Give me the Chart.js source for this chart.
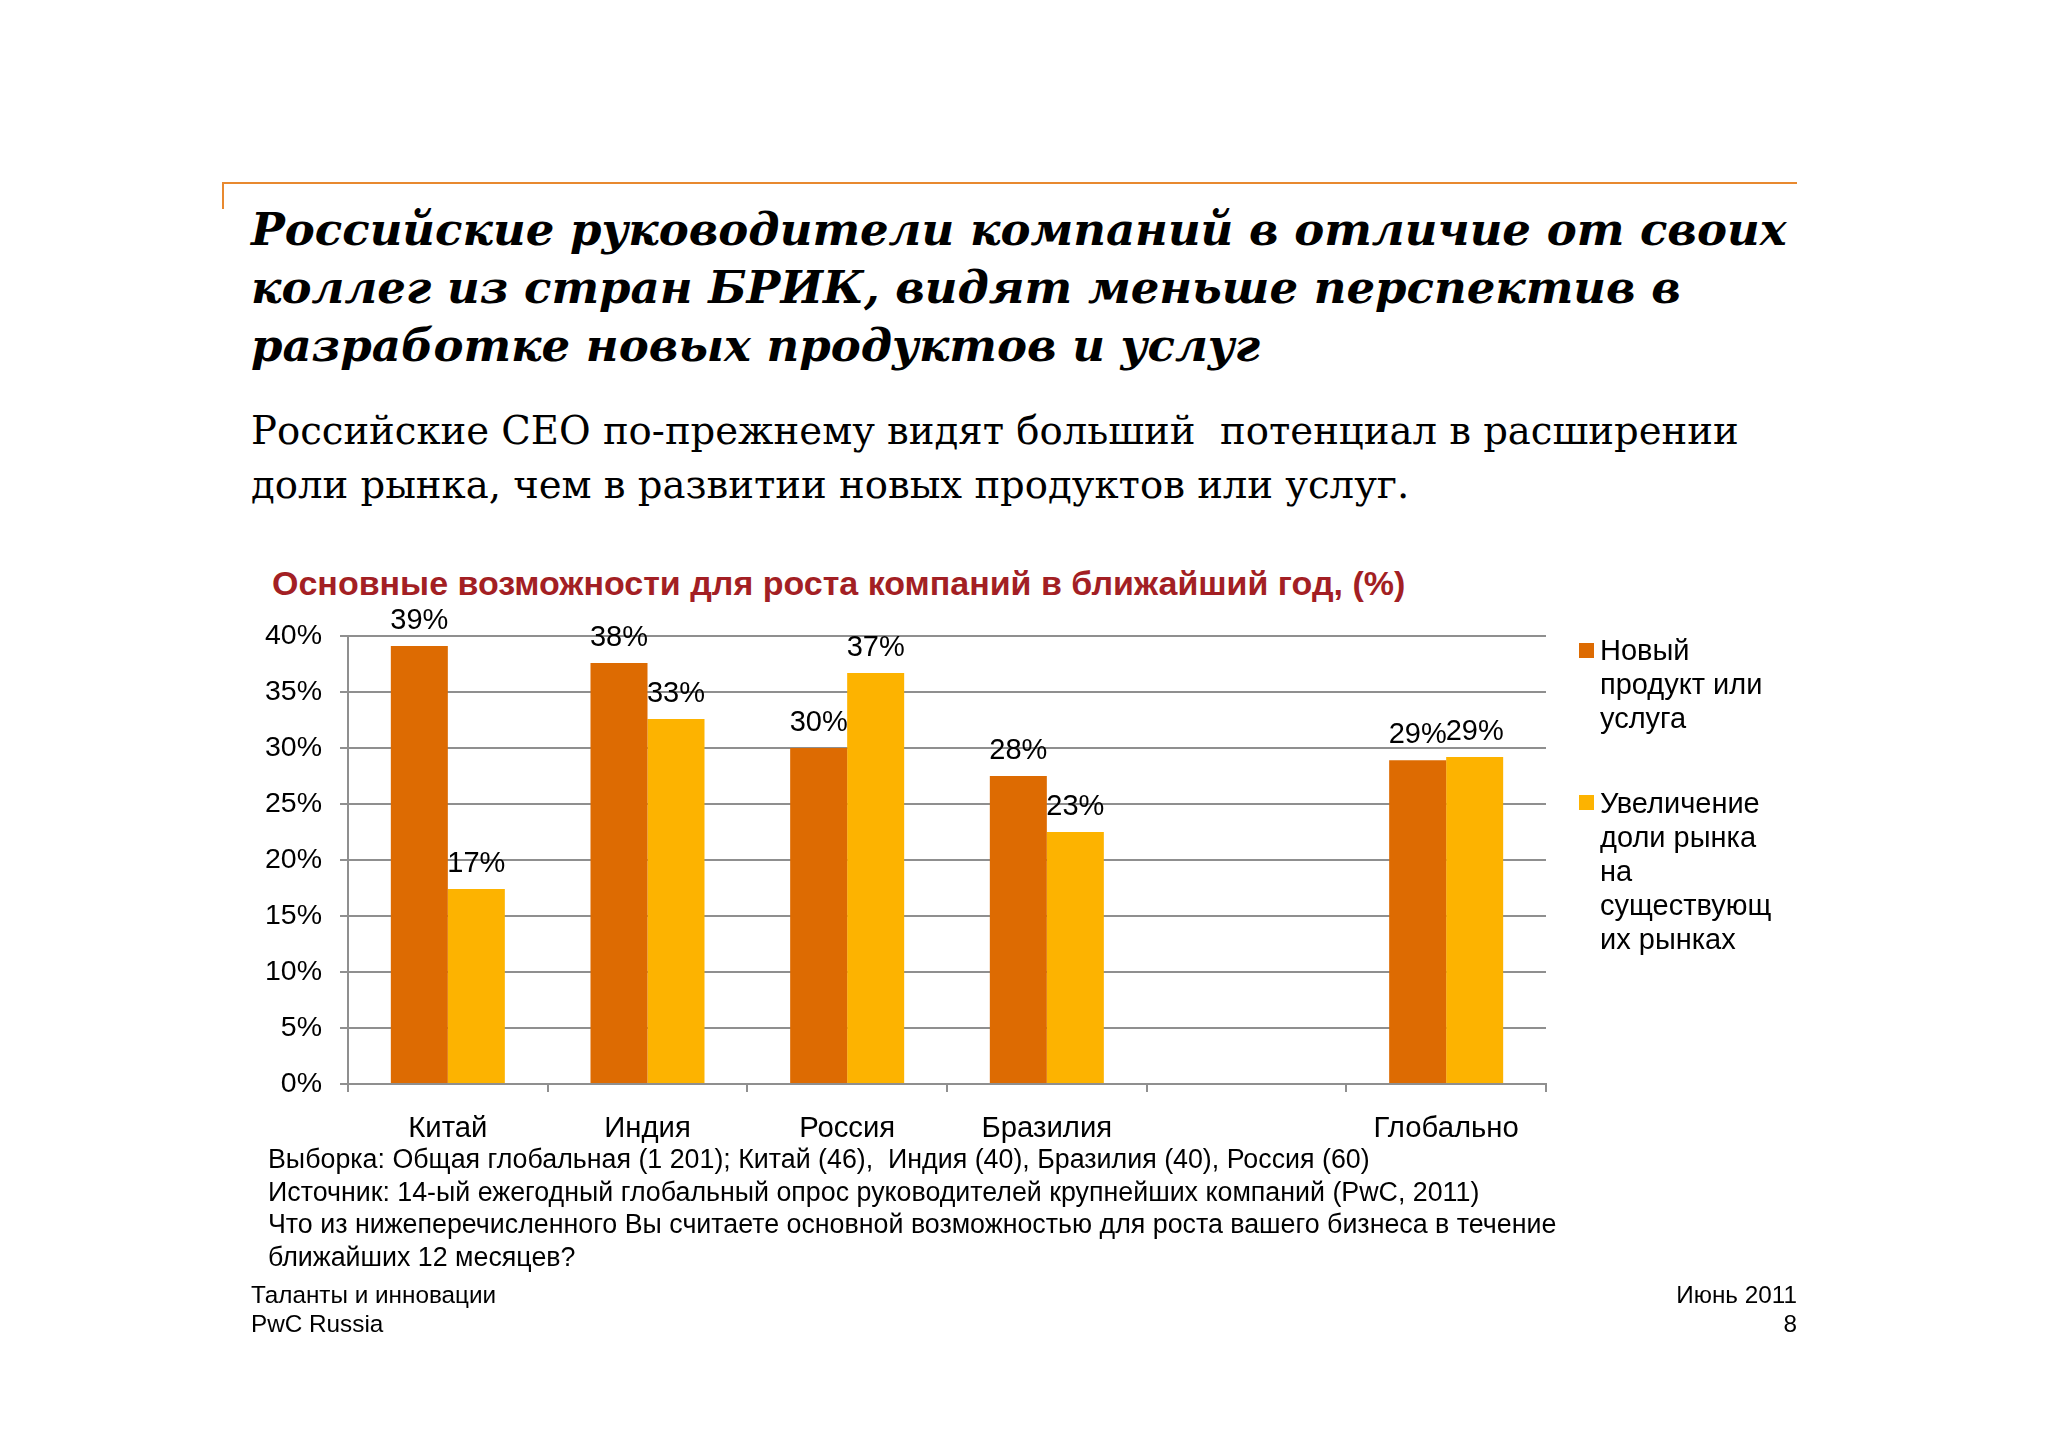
<!DOCTYPE html>
<html><head><meta charset="utf-8">
<script src="https://cdn.jsdelivr.net/npm/chart.js@4.4.1/dist/chart.umd.min.js"></script>
<style>
html,body{margin:0;padding:0;background:#fff;}
#page{position:relative;width:2048px;height:1447px;overflow:hidden;background:#fff;font-family:"Liberation Sans",Arial,sans-serif;color:#000;}
#chartCanvas{position:absolute;left:0;top:0;}
.t{position:absolute;white-space:pre;}
</style></head><body>
<div id="page">
  <div style="position:absolute;left:222px;top:182px;width:1575px;height:2px;background:#E8892F"></div>
  <div style="position:absolute;left:222px;top:182px;width:2px;height:27px;background:#E8892F"></div>
  <div class="t" id="title" style="left:251px;top:201px;font:italic bold 45px 'DejaVu Serif';line-height:58px;color:#000"></div>
  <div class="t" id="subtitle" style="left:251px;top:404px;font:38.6px 'DejaVu Serif';line-height:54px;color:#000"></div>
  <div class="t" id="chartTitle" style="left:272px;top:564px;font:bold 34px 'Liberation Sans';line-height:38px;color:#A31F24"></div>
  <canvas id="chartCanvas" width="2048" height="1447"></canvas>
  <div id="legend"></div>
  <div class="t" id="notes" style="left:268px;top:1143px;font:26.8px 'Liberation Sans';line-height:32.5px;color:#000"></div>
  <div class="t" id="footL" style="left:251px;top:1280px;font:24.3px 'Liberation Sans';line-height:29px;color:#000"></div>
  <div class="t" id="footR" style="right:251px;top:1280px;font:24.3px 'Liberation Sans';line-height:29px;color:#000;text-align:right"></div>
</div>
<script>
// ---- data ----
const categories = ["Китай", "Индия", "Россия", "Бразилия", "", "Глобально"];
const newProduct = [39.1, 37.6, 30.0, 27.5, null, 28.9];
const marketShare = [17.4, 32.6, 36.7, 22.5, null, 29.2];
const seriesNames = ["Новый продукт или услуга", "Увеличение доли рынка на существующих рынках"];
const legendLines = [["Новый", "продукт или", "услуга"], ["Увеличение", "доли рынка", "на", "существующ", "их рынках"]];
const seriesColors = ["#DD6B02", "#FDB300"];
const yTickValues = [0, 5, 10, 15, 20, 25, 30, 35, 40];

const titleLines = ["Российские руководители компаний в отличие от своих", "коллег из стран БРИК, видят меньше перспектив в", "разработке новых продуктов и услуг"];
const subtitleLines = ["Российские CEO по-прежнему видят больший  потенциал в расширении", "доли рынка, чем в развитии новых продуктов или услуг."];
const chartTitle = "Основные возможности для роста компаний в ближайший год, (%)";
const noteLines = ["Выборка: Общая глобальная (1 201); Китай (46),  Индия (40), Бразилия (40), Россия (60)",
  "Источник: 14-ый ежегодный глобальный опрос руководителей крупнейших компаний (PwC, 2011)",
  "Что из нижеперечисленного Вы считаете основной возможностью для роста вашего бизнеса в течение",
  "ближайших 12 месяцев?"];
const footerLeft = ["Таланты и инновации", "PwC Russia"];
const footerRight = ["Июнь 2011", "8"];

// ---- text ----
function setLines(id, lines){ const el=document.getElementById(id); el.innerHTML=''; lines.forEach((l,i)=>{ if(i) el.appendChild(document.createElement('br')); el.appendChild(document.createTextNode(l)); }); }
setLines('title', titleLines);
setLines('subtitle', subtitleLines);
setLines('chartTitle', [chartTitle]);
setLines('notes', noteLines);
setLines('footL', footerLeft);
setLines('footR', footerRight);

// legend (HTML)
const legendTops = [633, 785.5];
const legend = document.getElementById('legend');
legendLines.forEach((lines, i) => {
  const sq = document.createElement('div');
  sq.style.cssText = `position:absolute;left:1579px;top:${legendTops[i]+9.5}px;width:15px;height:15px;background:${seriesColors[i]}`;
  legend.appendChild(sq);
  const tx = document.createElement('div');
  tx.className = 't';
  tx.style.cssText = `left:1600px;top:${legendTops[i]}px;font:29px 'Liberation Sans';line-height:34px;color:#000`;
  lines.forEach((l,k)=>{ if(k) tx.appendChild(document.createElement('br')); tx.appendChild(document.createTextNode(l)); });
  legend.appendChild(tx);
});

// ---- chart ----
const valueLabels = {
  id: 'valueLabels',
  afterDatasetsDraw(chart) {
    const ctx = chart.ctx;
    ctx.save();
    ctx.font = '29px "Liberation Sans"';
    ctx.fillStyle = '#000';
    ctx.textAlign = 'center';
    ctx.textBaseline = 'alphabetic';
    chart.data.datasets.forEach((ds, i) => {
      chart.getDatasetMeta(i).data.forEach((bar, j) => {
        const v = ds.data[j];
        if (v == null) return;
        ctx.fillText(Math.round(v) + '%', bar.x, bar.y - 17);
      });
    });
    ctx.restore();
  }
};

const gridColor = '#8f8f8f';
new Chart(document.getElementById('chartCanvas'), {
  type: 'bar',
  data: {
    labels: categories,
    datasets: [
      { label: seriesNames[0], data: newProduct, backgroundColor: seriesColors[0], borderWidth: 0 },
      { label: seriesNames[1], data: marketShare, backgroundColor: seriesColors[1], borderWidth: 0 }
    ]
  },
  options: {
    responsive: false,
    animation: false,
    devicePixelRatio: 1,
    categoryPercentage: 0.571,
    barPercentage: 1.0,
    layout: { padding: { left: 240, top: 636, right: 502, bottom: 303 } },
    plugins: { legend: { display: false }, title: { display: false }, tooltip: { enabled: false } },
    scales: {
      x: {
        grid: { display: true, drawOnChartArea: false, drawTicks: true, tickLength: 8, color: gridColor, lineWidth: 2, offset: true },
        border: { display: true, color: gridColor, width: 2 },
        ticks: { font: { family: 'Liberation Sans', size: 29.3 }, color: '#000', padding: 19, maxRotation: 0, autoSkip: false },
        afterFit(s) { s.height = 60; }
      },
      y: {
        min: 0, max: 40,
        afterBuildTicks(s) { s.ticks = yTickValues.map(v => ({ value: v })); },
        ticks: { font: { family: 'Liberation Sans', size: 28.5 }, color: '#000', padding: 18, callback: v => v + '%' },
        grid: { color: gridColor, lineWidth: 2, tickLength: 8, drawTicks: true },
        border: { display: true, color: gridColor, width: 2 },
        afterFit(s) { s.width = 108; }
      }
    }
  },
  plugins: [valueLabels]
});
</script>
</body></html>
